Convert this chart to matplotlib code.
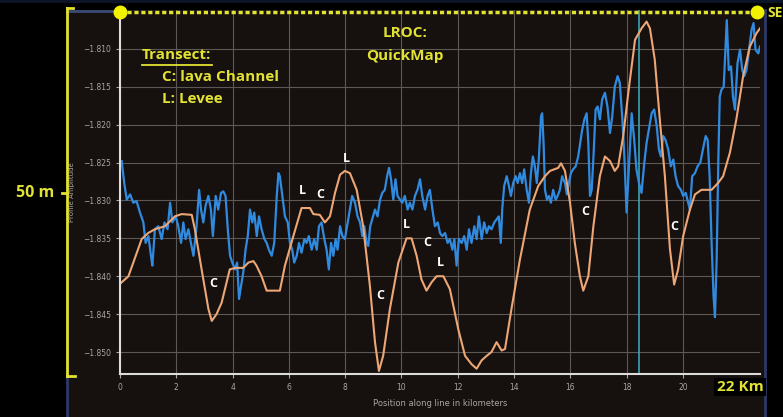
import matplotlib.pyplot as plt
from matplotlib.lines import Line2D
from matplotlib.patches import Rectangle

# LROC QuickMap profile, two transects (km along line vs profile amplitude)
orange_x = [0.0, 0.30, 0.77, 1.00, 1.24, 1.60, 1.95, 2.19, 2.55, 2.66, 2.90, 3.14, 3.26, 3.43,
            3.61, 3.90, 4.09, 4.38, 4.56, 4.74, 4.85, 5.03, 5.21, 5.68, 5.86, 6.16, 6.45, 6.75,
            6.87, 7.10, 7.28, 7.46, 7.64, 7.82, 7.99, 8.17, 8.41, 8.64, 8.88, 9.06, 9.20, 9.35,
            9.59, 9.89, 10.18, 10.36, 10.54, 10.71, 10.89, 11.07, 11.25, 11.49, 11.72, 12.02,
            12.26, 12.49, 12.67, 12.85, 13.03, 13.20, 13.38, 13.56, 13.68, 13.91, 14.21, 14.56,
            14.86, 15.10, 15.28, 15.57, 15.67, 15.81, 15.99, 16.16, 16.34, 16.46, 16.64, 16.82,
            17.05, 17.23, 17.41, 17.58, 17.70, 17.88, 18.06, 18.30, 18.53, 18.71, 18.83, 19.00,
            19.18, 19.36, 19.54, 19.69, 19.83, 20.01, 20.25, 20.43, 20.66, 21.02, 21.25, 21.43,
            21.67, 21.90, 22.14, 22.38, 22.62, 22.74]
orange_y = [-1.8410, -1.8400, -1.8351, -1.8343, -1.8338, -1.8334, -1.8321, -1.8318, -1.8319,
            -1.8338, -1.8391, -1.8443, -1.8459, -1.8450, -1.8435, -1.8391, -1.8389, -1.8389,
            -1.8382, -1.8380, -1.8386, -1.8400, -1.8419, -1.8419, -1.8386, -1.8347, -1.8310,
            -1.8310, -1.8318, -1.8319, -1.8329, -1.8321, -1.8290, -1.8266, -1.8261, -1.8264,
            -1.8286, -1.8334, -1.8413, -1.8487, -1.8525, -1.8505, -1.8443, -1.8382, -1.8350,
            -1.8350, -1.8373, -1.8404, -1.8419, -1.8408, -1.8400, -1.8400, -1.8417, -1.8470,
            -1.8505, -1.8516, -1.8522, -1.8511, -1.8505, -1.8500, -1.8487, -1.8498, -1.8496,
            -1.8443, -1.8378, -1.8312, -1.8281, -1.8268, -1.8261, -1.8257, -1.8251, -1.8261,
            -1.8303, -1.8356, -1.8400, -1.8419, -1.8400, -1.8334, -1.8268, -1.8242, -1.8248,
            -1.8261, -1.8255, -1.8215, -1.8158, -1.8088, -1.8073, -1.8064, -1.8073, -1.8114,
            -1.8193, -1.8268, -1.8364, -1.8411, -1.8391, -1.8347, -1.8312, -1.8292, -1.8286,
            -1.8286, -1.8277, -1.8268, -1.8237, -1.8193, -1.8136, -1.8097, -1.8079, -1.8073]

blue_x = [0.06, 0.15, 0.24, 0.36, 0.47, 0.59, 0.71, 0.83, 0.91, 1.01, 1.10, 1.15, 1.24, 1.36,
          1.48, 1.58, 1.69, 1.78, 1.86, 1.98, 2.07, 2.17, 2.25, 2.33, 2.43, 2.52, 2.61, 2.72,
          2.81, 2.88, 2.96, 3.04, 3.14, 3.23, 3.30, 3.40, 3.49, 3.59, 3.67, 3.75, 3.83, 3.91,
          3.99, 4.09, 4.16, 4.23, 4.30, 4.38, 4.46, 4.54, 4.62, 4.70, 4.77, 4.86, 4.94, 5.03,
          5.13, 5.21, 5.29, 5.39, 5.48, 5.57, 5.63, 5.68, 5.77, 5.86, 5.96, 6.04, 6.12, 6.19,
          6.28, 6.36, 6.45, 6.55, 6.63, 6.71, 6.81, 6.90, 6.99, 7.07, 7.16, 7.26, 7.34, 7.42,
          7.50, 7.58, 7.66, 7.73, 7.82, 7.90, 7.99, 8.09, 8.17, 8.25, 8.35, 8.44, 8.53, 8.61,
          8.68, 8.76, 8.82, 8.89, 8.96, 9.06, 9.15, 9.24, 9.32, 9.41, 9.49, 9.56, 9.63, 9.71,
          9.79, 9.86, 9.95, 10.03, 10.12, 10.22, 10.30, 10.39, 10.48, 10.57, 10.66, 10.74,
          10.84, 10.93, 11.01, 11.10, 11.19, 11.29, 11.37, 11.45, 11.55, 11.64, 11.72, 11.81,
          11.88, 11.96, 12.04, 12.14, 12.23, 12.32, 12.40, 12.49, 12.59, 12.67, 12.75, 12.85,
          12.94, 13.03, 13.11, 13.20, 13.30, 13.38, 13.46, 13.53, 13.58, 13.65, 13.74, 13.82,
          13.89, 13.97, 14.06, 14.13, 14.21, 14.29, 14.36, 14.45, 14.53, 14.60, 14.67, 14.74,
          14.81, 14.88, 14.96, 15.00, 15.05, 15.10, 15.17, 15.24, 15.31, 15.39, 15.48, 15.55,
          15.63, 15.71, 15.81, 15.88, 15.95, 16.02, 16.10, 16.19, 16.28, 16.35, 16.42, 16.50,
          16.58, 16.64, 16.70, 16.76, 16.83, 16.90, 16.97, 17.05, 17.13, 17.23, 17.32, 17.41,
          17.49, 17.58, 17.68, 17.76, 17.85, 17.92, 18.00, 18.08, 18.18, 18.27, 18.35, 18.44,
          18.53, 18.63, 18.71, 18.79, 18.89, 18.98, 19.07, 19.15, 19.22, 19.30, 19.38, 19.48,
          19.57, 19.66, 19.74, 19.83, 19.93, 20.01, 20.10, 20.19, 20.25, 20.33, 20.43, 20.52,
          20.62, 20.71, 20.81, 20.88, 20.95, 21.02, 21.09, 21.14, 21.20, 21.26, 21.31, 21.37,
          21.45, 21.52, 21.56, 21.63, 21.71, 21.78, 21.85, 21.94, 22.03, 22.11, 22.18, 22.26,
          22.35, 22.44, 22.51, 22.58, 22.68, 22.74]
blue_y = [-1.8248, -1.8277, -1.8299, -1.8292, -1.8303, -1.8301, -1.8316, -1.8329, -1.8356,
          -1.8347, -1.8373, -1.8386, -1.8338, -1.8334, -1.8351, -1.8329, -1.8338, -1.8303,
          -1.8329, -1.8321, -1.8334, -1.8356, -1.8329, -1.8351, -1.8338, -1.8356, -1.8373,
          -1.8334, -1.8286, -1.8312, -1.8329, -1.8307, -1.8294, -1.8312, -1.8347, -1.8294,
          -1.8312, -1.8290, -1.8288, -1.8294, -1.8338, -1.8373, -1.8382, -1.8391, -1.8382,
          -1.8430, -1.8413, -1.8395, -1.8365, -1.8347, -1.8312, -1.8329, -1.8316, -1.8347,
          -1.8321, -1.8338, -1.8351, -1.8356, -1.8365, -1.8373, -1.8356, -1.8294, -1.8264,
          -1.8268, -1.8294, -1.8321, -1.8329, -1.8356, -1.8365, -1.8382, -1.8373, -1.8356,
          -1.8369, -1.8351, -1.8356, -1.8347, -1.8365, -1.8351, -1.8365, -1.8334, -1.8329,
          -1.8351, -1.8365, -1.8391, -1.8356, -1.8373, -1.8351, -1.8365, -1.8334, -1.8347,
          -1.8351, -1.8329, -1.8312, -1.8294, -1.8303, -1.8321, -1.8329, -1.8347, -1.8334,
          -1.8356, -1.8360, -1.8334, -1.8325, -1.8312, -1.8321, -1.8299, -1.8290, -1.8286,
          -1.8268, -1.8257, -1.8272, -1.8299, -1.8272, -1.8294, -1.8299, -1.8303, -1.8294,
          -1.8312, -1.8303, -1.8312, -1.8294, -1.8286, -1.8272, -1.8294, -1.8312, -1.8294,
          -1.8286, -1.8312, -1.8334, -1.8329, -1.8343, -1.8347, -1.8343, -1.8356, -1.8351,
          -1.8365, -1.8351, -1.8386, -1.8351, -1.8356, -1.8347, -1.8365, -1.8338, -1.8356,
          -1.8334, -1.8351, -1.8321, -1.8351, -1.8329, -1.8343, -1.8334, -1.8338, -1.8329,
          -1.8325, -1.8321, -1.8356, -1.8312, -1.8281, -1.8268, -1.8281, -1.8294, -1.8277,
          -1.8268, -1.8277, -1.8264, -1.8277, -1.8259, -1.8286, -1.8303, -1.8264, -1.8242,
          -1.8255, -1.8277, -1.8246, -1.8189, -1.8185, -1.8224, -1.8286, -1.8299, -1.8294,
          -1.8303, -1.8286, -1.8299, -1.8294, -1.8286, -1.8268, -1.8277, -1.8292, -1.8277,
          -1.8264, -1.8259, -1.8255, -1.8242, -1.8224, -1.8207, -1.8193, -1.8185, -1.8224,
          -1.8294, -1.8286, -1.8237, -1.8180, -1.8176, -1.8193, -1.8167, -1.8158, -1.8176,
          -1.8211, -1.8189, -1.8150, -1.8136, -1.8145, -1.8193, -1.8242, -1.8316, -1.8259,
          -1.8185, -1.8220, -1.8259, -1.8277, -1.8290, -1.8250, -1.8224, -1.8207, -1.8185,
          -1.8180, -1.8202, -1.8233, -1.8242, -1.8215, -1.8220, -1.8233, -1.8255, -1.8246,
          -1.8268, -1.8281, -1.8286, -1.8294, -1.8290, -1.8303, -1.8312, -1.8268, -1.8264,
          -1.8255, -1.8250, -1.8233, -1.8215, -1.8220, -1.8268, -1.8356, -1.8426, -1.8454,
          -1.8378, -1.8246, -1.8163, -1.8154, -1.8150, -1.8093, -1.8062, -1.8128, -1.8123,
          -1.8163, -1.8180, -1.8119, -1.8101, -1.8128, -1.8136, -1.8128, -1.8101, -1.8075,
          -1.8066, -1.8101, -1.8106, -1.8097]

# feature markers: C = lava channel, L = levee
marker_text = ['C', 'L', 'C', 'L', 'C', 'L', 'C', 'L', 'C', 'C']
marker_x = [3.30, 6.47, 7.10, 8.06, 9.24, 10.16, 10.91, 11.40, 16.52, 19.68]
marker_y = [-1.8409, -1.8287, -1.8292, -1.8245, -1.8425, -1.8332, -1.8355, -1.8382, -1.8314, -1.8334]

yticks = [-1.850, -1.845, -1.840, -1.835, -1.830, -1.825, -1.820, -1.815, -1.810]
ytick_labels = ['\u22121.850', '\u22121.845', '\u22121.840', '\u22121.835', '\u22121.830',
                '\u22121.825', '\u22121.820', '\u22121.815', '\u22121.810']
xticks = [0, 2, 4, 6, 8, 10, 12, 14, 16, 18, 20]
cursor_x = 18.43

YEL = '#e2e232'
PANEL = '#16110e'

fig = plt.figure(figsize=(7.83, 4.17), dpi=100, facecolor='black')
W, H = 783, 417

def fx(px):
    return px / W

def fy(py):
    return 1 - py / H

# dark panel and the frame lines of the screenshot
fig.patches.append(Rectangle((fx(67), 0), fx(765) - fx(67), fy(10), transform=fig.transFigure,
                             facecolor=PANEL, edgecolor='none', zorder=-10))
fig.patches.append(Rectangle((0, fy(3)), 1, 3 / H, transform=fig.transFigure,
                             facecolor='#0c1428', edgecolor='none', zorder=-10))
frame = [((67, 120), (11, 11), '#3c4c78'), ((765, 765), (10, 417), '#2c3a66'),
         ((67, 67), (376, 417), '#2c3a66'),
         ((67, 67), (8, 376), YEL), ((67, 73), (8, 8), YEL), ((67, 75), (376, 376), YEL),
         ((62, 67), (193, 193), YEL)]
for xs, ys, c in frame:
    fig.add_artist(Line2D([fx(v) for v in xs], [fy(v) for v in ys], color=c, lw=2,
                          transform=fig.transFigure))
fig.add_artist(Line2D([fx(120), fx(757)], [fy(12), fy(12)], color=YEL, lw=2.5,
                      ls=(0, (1.2, 0.8)), transform=fig.transFigure))
for px in (120, 757):
    fig.add_artist(Line2D([fx(px)], [fy(12)], marker='o', ms=9, color='#f2f200',
                          transform=fig.transFigure))
fig.text(fx(767), fy(13), 'SE', color=YEL, fontsize=10, fontweight='bold',
         family='Open Sans', va='center', ha='left')
fig.text(fx(54), fy(193), '50 m', color=YEL, fontsize=11.5, fontweight='bold',
         family='Open Sans', va='center', ha='right')

ax = fig.add_axes([fx(120), fy(374), fx(760) - fx(120), fy(10) - fy(374)])
ax.set_facecolor(PANEL)
ax.set_xlim(0, 22.74)
ax.set_ylim(-1.8529, -1.80487)

ax.grid(True, color='#5e5854', lw=0.8)
ax.set_axisbelow(True)
ax.axvline(cursor_x, color='#3ab0c0', lw=1.1)

ax.plot(blue_x, blue_y, color='#2f8ae0', lw=1.6)
ax.plot(orange_x, orange_y, color='#eda676', lw=1.5)

for t, x, y in zip(marker_text, marker_x, marker_y):
    ax.text(x, y, t, color='white', fontsize=9, fontweight='bold', family='Open Sans',
            ha='center', va='center')

ax.set_xticks(xticks)
ax.set_xticklabels([str(v) for v in xticks])
ax.set_yticks(yticks)
ax.set_yticklabels(ytick_labels)
ax.tick_params(colors='#aaa6a2', labelsize=5.5, length=3, width=0.8, direction='out')
for side in ('top', 'right'):
    ax.spines[side].set_visible(False)
for side in ('left', 'bottom'):
    ax.spines[side].set_color('#dcdcdc')
    ax.spines[side].set_linewidth(1.5)
ax.set_xlabel('Position along line in kilometers', color='#aaa6a2', fontsize=6, labelpad=5)
ax.set_ylabel('Profile Amplitude', color='#aaa6a2', fontsize=5, labelpad=6)

txt = dict(color=YEL, fontsize=11, fontweight='bold', family='Open Sans', transform=fig.transFigure)
fig.text(fx(142), fy(55), 'Transect:', va='center', ha='left', **txt)
fig.add_artist(Line2D([fx(142), fx(212)], [fy(65), fy(65)], color=YEL, lw=1.3,
                      transform=fig.transFigure))
fig.text(fx(162), fy(77), 'C: lava Channel', va='center', ha='left', **txt)
fig.text(fx(162), fy(99), 'L: Levee', va='center', ha='left', **txt)
fig.text(fx(405), fy(33), 'LROC:', va='center', ha='center', **txt)
fig.text(fx(405), fy(56), 'QuickMap', va='center', ha='center', **txt)
fig.text(fx(740), fy(387), '22 Km', va='center', ha='center', color=YEL, fontsize=11,
         fontweight='bold', family='Open Sans',
         bbox=dict(facecolor='black', edgecolor='none', pad=1.5))

fig.savefig('out.png', dpi=100, facecolor=fig.get_facecolor())
